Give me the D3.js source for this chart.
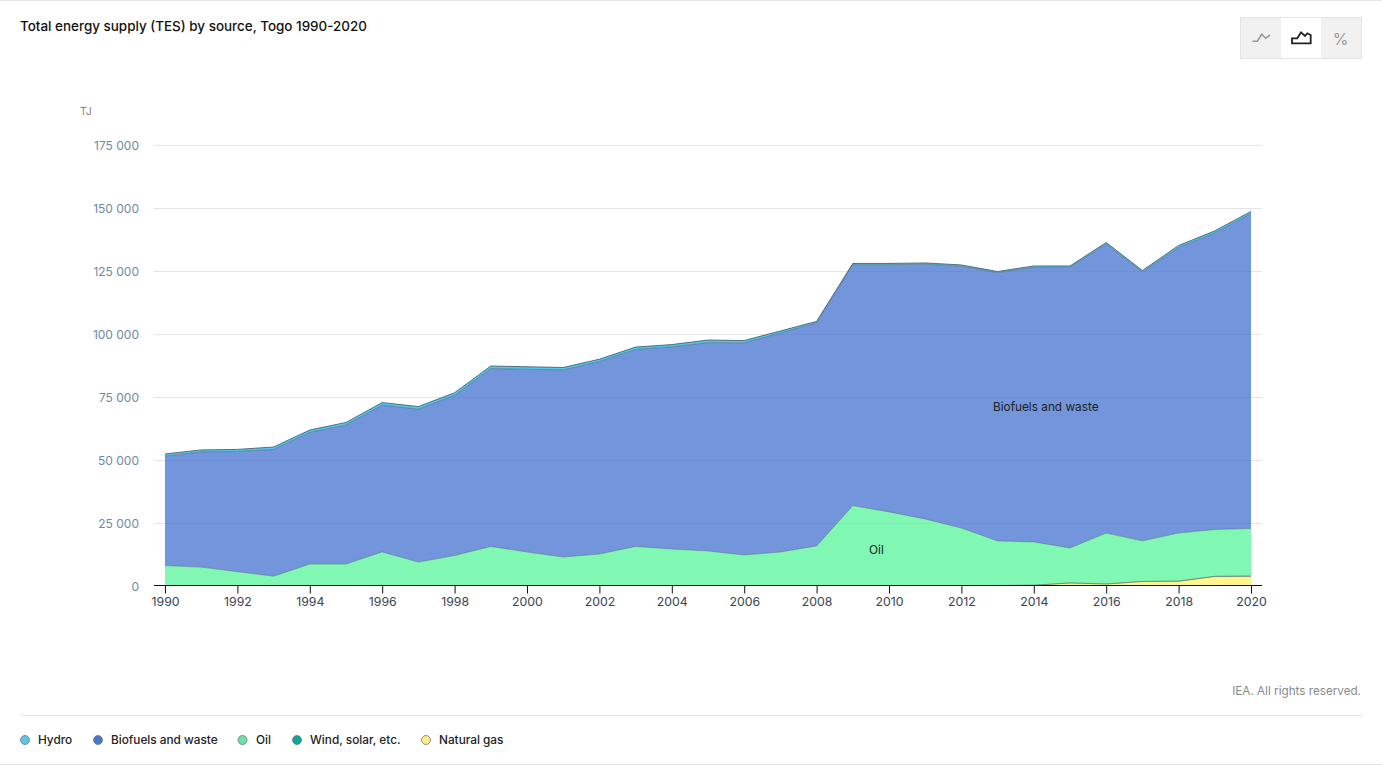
<!DOCTYPE html>
<html>
<head>
    <title>Total energy supply</title>
    <script src="https://d3js.org/d3.v7.min.js"></script>
    <style>
        body, html {
            margin: 0;
            background: #fff;
            overflow: hidden;
        }
        text {
            font-family: Inter, "Open Sans", sans-serif;
        }
        .y-axis text { fill: #6f8a9c; font-size: 12px; }
        .x-axis text { fill: #3a4450; font-size: 12.3px; }
    </style>
</head>
<body>
<div id="chart"></div>
<script>
    const years = d3.range(1990, 2021);
    const naturalGas = [0,0,0,0,0,0,0,0,0,0,0,0,0,0,0,0,0,0,0,0,0,0,0,0,100,1000,600,1600,1700,3600,3700];
    const wind = [0,0,0,0,0,0,0,0,0,0,0,0,0,0,0,0,0,0,0,0,0,0,0,0,0,0,0,10,20,30,30];
    const oil = [7900,7300,5500,3700,8500,8500,13300,9300,11900,15500,13300,11300,12500,15500,14500,13700,12100,13300,15700,31700,29200,26400,22800,17700,17200,13900,20200,16100,19100,18600,18900];
    const biofuels = [43500,45700,47700,50300,52300,55200,58300,60700,63600,70600,72500,74300,76400,78200,80200,82700,84200,86900,88600,95600,98100,101100,103900,106500,108900,111400,114700,106700,113300,117700,125000];
    const hydro = [800,800,800,950,900,1000,1000,1000,1000,1000,1000,900,900,900,900,1000,900,800,500,500,500,500,500,400,600,500,600,600,800,800,800];

    const seriesNames = ["Natural gas", "Wind, solar, etc.", "Oil", "Biofuels and waste", "Hydro"];
    const seriesValues = [naturalGas, wind, oil, biofuels, hydro];
    const fillColors = ["#fff26d", "#0b9f94", "#60f6a1", "#4f7ad2", "#26baea"];

    const legendNames = ["Hydro", "Biofuels and waste", "Oil", "Wind, solar, etc.", "Natural gas"];
    const legendColors = ["#5cc4ea", "#4478d0", "#6be3a3", "#0ea69b", "#fdeb86"];
    const legendX = [25, 98, 242.5, 297, 426];

    const yTicks = [0, 25000, 50000, 75000, 100000, 125000, 150000, 175000];
    const xTicks = d3.range(1990, 2021, 2);

    const width = 1382, height = 765;

    const svg = d3.select("#chart").append("svg")
                  .attr("width", width)
                  .attr("height", height)
                  .style("display", "block");

    const x = d3.scaleLinear().domain([1990, 2020]).range([165, 1251]);
    const y = d3.scaleLinear().domain([0, 175000]).range([585.5, 144.5]);

    // frame lines
    svg.append("line").attr("x1", 0).attr("x2", width).attr("y1", 0.5).attr("y2", 0.5).attr("stroke", "#e6e6e6");
    svg.append("line").attr("x1", 0).attr("x2", width).attr("y1", 764.5).attr("y2", 764.5).attr("stroke", "#e6e6e6");
    svg.append("line").attr("x1", 20).attr("x2", 1362).attr("y1", 715.5).attr("y2", 715.5).attr("stroke", "#e6e6e6");

    svg.append("text")
       .attr("x", 20).attr("y", 31)
       .attr("font-size", 13.45).attr("font-weight", 500).attr("fill", "#111")
       .text("Total energy supply (TES) by source, Togo 1990-2020");

    svg.append("text")
       .attr("x", 80).attr("y", 114.5)
       .attr("font-size", 10.5).attr("fill", "#8f7f78")
       .text("TJ");

    // grid, seen through the areas
    svg.append("g").selectAll("line")
       .data(yTicks.slice(1))
       .join("line")
       .attr("x1", 154).attr("x2", 1262)
       .attr("y1", d => Math.round(y(d)) + 0.5).attr("y2", d => Math.round(y(d)) + 0.5)
       .attr("stroke", "#e4e4e4");

    // stacked areas
    const rows = years.map((year, i) => {
        const row = { year: year };
        seriesNames.forEach((name, s) => { row[name] = seriesValues[s][i]; });
        return row;
    });
    const stacked = d3.stack().keys(seriesNames)(rows);
    const area = d3.area()
                   .x(d => x(d.data.year))
                   .y0(d => y(d[0]))
                   .y1(d => y(d[1]));
    const topLine = d3.line()
                      .x(d => x(d.data.year))
                      .y(d => y(d[1]));

    svg.append("g").selectAll("path")
       .data(stacked)
       .join("path")
       .attr("d", area)
       .attr("fill", (d, i) => fillColors[i])
       .attr("fill-opacity", 0.8);

    svg.append("g").selectAll("path")
       .data(stacked)
       .join("path")
       .attr("d", topLine)
       .attr("fill", "none")
       .attr("stroke", "#4b6070")
       .attr("stroke-opacity", (d, i) => i === 4 ? 0.9 : (i === 3 ? 0.55 : 0.45))
       .attr("stroke-width", 1);

    // axes
    const yAxis = d3.axisLeft(y)
                    .tickValues(yTicks)
                    .tickSize(0)
                    .tickPadding(0)
                    .tickFormat(d => d3.format(",")(d).replace(/,/g, " "));
    svg.append("g").attr("class", "y-axis")
       .attr("transform", "translate(139,1)")
       .call(yAxis)
       .call(g => g.select(".domain").remove());

    const xAxis = d3.axisBottom(x)
                    .tickValues(xTicks)
                    .tickSize(8)
                    .tickPadding(4)
                    .tickFormat(d3.format("d"));
    svg.append("g").attr("class", "x-axis")
       .attr("transform", "translate(0,585.5)")
       .call(xAxis)
       .call(g => g.select(".domain").remove())
       .call(g => g.selectAll("line").attr("stroke", "#111"));
    svg.append("line").attr("x1", 154).attr("x2", 1262).attr("y1", 585.5).attr("y2", 585.5).attr("stroke", "#111");

    // direct labels
    svg.append("text").attr("x", 993).attr("y", 411).attr("font-size", 11.8).attr("fill", "#222").text("Biofuels and waste");
    svg.append("text").attr("x", 869).attr("y", 554).attr("font-size", 11.8).attr("fill", "#222").text("Oil");

    svg.append("text")
       .attr("x", 1361).attr("y", 695).attr("text-anchor", "end")
       .attr("font-size", 11.7).attr("fill", "#8a8a8a")
       .text("IEA. All rights reserved.");

    // legend
    const legend = svg.append("g").selectAll("g")
                      .data(legendNames)
                      .join("g")
                      .attr("transform", (d, i) => `translate(${legendX[i]},740)`);
    legend.append("circle")
          .attr("r", 4.5)
          .attr("fill", (d, i) => legendColors[i])
          .attr("stroke", "#777")
          .attr("stroke-width", 0.8);
    legend.append("text")
          .attr("x", (d, i) => i === 2 ? 13.5 : 13).attr("y", 4)
          .attr("font-size", 11.8).attr("font-weight", 500).attr("fill", "#222")
          .text(d => d);

    // chart type buttons
    const buttons = svg.append("g").attr("transform", "translate(1241,17)");
    buttons.append("rect").attr("x", -0.5).attr("y", 0.5).attr("width", 121).attr("height", 41)
           .attr("fill", "#f1f1f1").attr("stroke", "#e4e4e4");
    buttons.append("rect").attr("x", 40).attr("y", 1).attr("width", 40).attr("height", 40).attr("fill", "#fff");
    buttons.append("path")
           .attr("d", "M11.3 24.3H16.3L20.7 17.3 24.7 21.3 29 18")
           .attr("fill", "none").attr("stroke", "#999").attr("stroke-width", 1.6);
    buttons.append("path")
           .attr("d", "M51 26.3V21.3H56.3L60 15.3 64 19 66.3 16.3 69.7 18V26.3Z")
           .attr("fill", "none").attr("stroke", "#222").attr("stroke-width", 1.8);
    buttons.append("text")
           .attr("x", 99.5).attr("y", 27.5).attr("text-anchor", "middle")
           .attr("font-size", 16).attr("fill", "#999").text("%");
</script>
</body>
</html>
